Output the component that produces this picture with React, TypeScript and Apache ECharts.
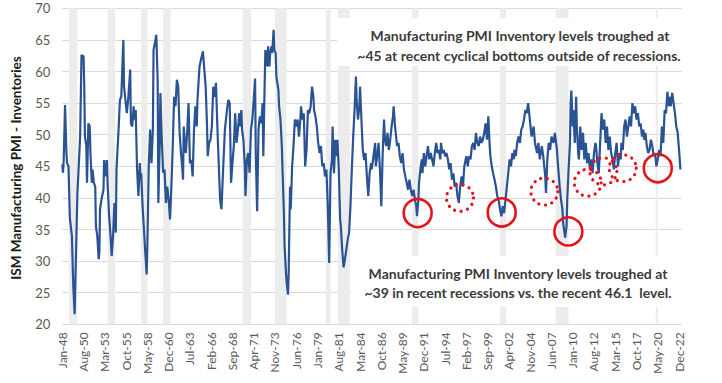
import React, { useEffect, useRef } from "react";
import * as echarts from "echarts";

const monthIdx: number[] = [
  0, 1, 2, 4, 6, 7, 9, 11, 14, 16, 18, 20, 22, 23, 26, 28, 31, 32, 33, 35, 36, 38, 40, 41, 43, 44, 46, 48, 49, 51, 53, 54, 55, 57, 60, 61, 63, 65, 66, 68, 70, 72, 74, 76, 78, 79, 82, 84, 86, 89, 90, 92, 94, 96, 97, 99, 100, 102, 104, 105, 107, 109, 111, 113, 114, 115, 117, 119, 121, 123, 124, 126, 128, 130, 132, 133, 135, 137, 139, 140, 142, 143, 145, 147, 149, 151, 153, 155, 157, 159, 161, 163, 165, 167, 169, 171, 173, 175, 176, 177, 179, 180, 182, 184, 186, 188, 190, 192, 194, 196, 197, 200, 202, 205, 207, 209, 211, 212, 214, 216, 218, 220, 222, 224, 226, 228, 230,
  232, 235, 237, 240, 242, 244, 246, 248, 250, 252, 254, 256, 258, 259, 261, 262, 264, 266, 267, 269, 271, 273, 275, 277, 279, 281, 282, 284, 286, 288, 290, 292, 293, 295, 296, 297, 299, 300, 302, 303, 305, 306, 308, 309, 311, 312, 315, 316, 318, 320, 321, 323, 324, 326, 327, 329, 330, 331, 332, 333, 335, 337, 339, 341, 343, 345, 347, 348, 350, 352, 354, 356, 358, 360, 362, 364, 366, 367, 369, 371, 373, 375, 377, 379, 381, 383, 385, 387, 389, 391, 393, 394, 396, 398, 400, 401, 403, 405, 406, 408, 410, 412, 414, 416, 418, 420, 422, 424, 426, 428, 429, 431, 433, 434, 436, 438, 440, 442, 444, 446, 448, 450,
  451, 453, 456, 457, 459, 461, 463, 465, 467, 469, 470, 472, 474, 476, 478, 480, 482, 483, 485, 486, 488, 490, 492, 494, 496, 498, 500, 502, 504, 506, 508, 510, 512, 514, 516, 517, 519, 520, 522, 524, 525, 527, 529, 531, 533, 535, 537, 539, 541, 543, 545, 547, 549, 551, 552, 554, 556, 558, 560, 562, 564, 566, 568, 570, 572, 574, 576, 578, 580, 582, 584, 586, 588, 589, 591, 593, 595, 597, 599, 601, 603, 605, 607, 609, 611, 613, 615, 617, 619, 621, 623, 624, 626, 628, 630, 632, 634, 636, 638, 640, 642, 644, 646, 648, 650, 652, 654, 656, 658, 659, 661, 663, 665, 667, 669, 671, 673, 675, 677, 679, 681,
  684, 687, 689, 692, 694, 696, 699, 701, 704, 705, 707, 709, 711, 713, 716, 718, 721, 723, 725, 727, 729, 730, 732, 733, 735, 736, 738, 740, 741, 742, 744, 745, 747, 749, 750, 752, 753, 755, 757, 759, 761, 763, 765, 767, 769, 771, 773, 775, 777, 778, 780, 782, 784, 786, 788, 790, 792, 794, 796, 798, 800, 802, 804, 806, 808, 810, 812, 814, 815, 817, 819, 821, 823, 825, 827, 829, 831, 833, 835, 837, 839, 841, 843, 845, 847, 848, 850, 852, 854, 856, 858, 860, 862, 864, 866, 868, 870, 872, 874, 876, 878, 880, 882, 884, 885, 887, 889, 891, 893, 895, 897, 899, 901,
];

// ISM Manufacturing PMI - Inventories index values at those months
const pmiInv: number[] = [
  45.3, 44, 45.8, 54.7, 47.1, 45.5, 45, 36.8, 34, 26, 21.6, 31.3, 40.8, 42.9, 49.7, 62.6, 62.4, 57.6, 49.7, 48.2, 42.4, 51.8, 51.3, 47.1, 42.4, 44.5, 42.4, 41.8, 35.5, 34, 30.3, 31.3, 38.2, 39.7, 41.3, 46, 43.4, 46, 42.4, 37.6, 34.5, 30.8, 34, 39.2, 34.5, 44.5, 50.8, 55.5, 56, 65, 57.6, 55.5, 53.4, 55.5, 57.1, 60.3, 51.8, 51.3, 54.5, 52.4, 53.9, 44.5, 40.3, 45.5, 42.9, 43.9, 38.7, 35, 31.3, 27.9, 32.4, 45, 50.8, 45.5, 50.8, 63.4, 64.5, 65.8, 58.7, 39.2, 48.7, 56.6, 49.2, 44, 44.5, 39.2, 41.8, 39.7, 36.6, 41.8, 48.2, 56, 54.5, 58.7, 57.6, 50.3, 47.1, 44.5, 42.9, 51.3, 48.2, 47.1, 50.3, 55, 45.5, 46, 43.4, 50.8, 54.5, 51.3, 55.5, 60.8, 61.8, 63.2, 60.3, 57.6, 51.3, 46.6, 48.7, 49.2, 51.3, 57.6, 56, 58.2, 51.3, 45.5, 39.7,
  38.2, 46, 50.8, 53.9, 55.5, 55, 42.4, 45.5, 48.2, 53.4, 48.7, 50.8, 53.4, 51.3, 53.9, 50.8, 49.2, 45, 40.3, 46, 47.1, 44, 50.8, 52.4, 55.5, 58.9, 47.1, 37.9, 50.8, 52.9, 51.8, 55, 46.6, 58.2, 63.4, 62.9, 60.8, 64, 60.8, 62.9, 64, 62.9, 66.6, 63.4, 62.9, 59.2, 57.1, 54.5, 52.4, 48.2, 44.5, 37.6, 32.4, 28.2, 26.6, 24.7, 28.2, 35.5, 41.8, 38.2, 45, 48.2, 52.4, 51.3, 52.4, 49.7, 52.4, 54.5, 52.4, 53.4, 45, 47.6, 53.9, 53.4, 54.5, 57.6, 56, 53.9, 52.9, 51.3, 48.7, 47.1, 48.2, 45, 45.5, 43.4, 44.5, 38.7, 29.7, 44, 46, 51.3, 43.9, 49.2, 46.6, 49.2, 44.5, 36.6, 35.5, 31.8, 29, 30.3, 31.8, 33.4, 34.5, 38.7, 44.5, 49.7, 53.9, 59.2, 55.5, 52.4, 54.5, 57.6, 52.4, 47.6, 46, 47.1, 43.4, 40.3, 44, 45.5,
  44.5, 46.1, 48.7, 45, 46.6, 48.7, 44.5, 38.7, 47.1, 52.4, 49.7, 48.2, 50.3, 47.6, 49.2, 51.3, 52.9, 54.5, 51.3, 50.3, 48.2, 48.7, 46.6, 45.5, 47.1, 44.5, 43.4, 42.4, 41.3, 42.9, 41.3, 40.3, 41.3, 39.7, 38.7, 37.1, 39.7, 42.4, 44.5, 46.1, 43.9, 47.1, 45, 46.6, 48.2, 46.1, 47.1, 46.1, 45, 47.1, 48.7, 47.1, 47.6, 46.1, 48.7, 47.1, 47.6, 46.6, 47.1, 46.1, 44.5, 45.5, 42.9, 43.9, 41.8, 42.4, 40.3, 39.2, 41.8, 43.4, 41.8, 45, 46.1, 46.6, 45, 46.6, 46.1, 48.2, 48.7, 47.6, 50.3, 48.7, 48.2, 49.7, 48.7, 49.2, 50.3, 51.8, 49.2, 52.9, 48.2, 46.6, 45, 43.9, 42.9, 41.8, 40.3, 39.7, 38.2, 37.1, 38.7, 37.6, 39.7, 41.8, 43.9, 46.1, 45, 47.1, 46.1, 47.6, 46.6, 48.7, 49.7, 48.7, 50.8, 51.3, 52.4, 53.9, 53.4, 55, 52.9,
  49.7, 51.3, 48.7, 47.1, 48.7, 46.1, 48.2, 46.6, 43.4, 40.8, 46.1, 48.7, 47.6, 49.7, 48.7, 50.3, 47.6, 44.5, 41.8, 39.7, 38.2, 36.1, 34.5, 33.7, 35.5, 39.7, 44.5, 48.7, 55, 57, 51.3, 53.9, 48.7, 56, 51.3, 47.1, 46.1, 51.3, 47.6, 50.3, 46.1, 48.7, 45.5, 47.1, 44.5, 46.1, 43.9, 47.1, 48.7, 48.2, 45.5, 43.9, 48.7, 53.4, 50.8, 52.4, 48.7, 51.3, 47.6, 49.7, 47.1, 46.1, 44.5, 47.1, 48.7, 45, 47.1, 46.1, 48.7, 47.6, 51.3, 52.4, 49.7, 51.3, 52.9, 51.3, 55, 53.4, 54.5, 52.4, 53.4, 51.3, 51.8, 49.7, 50.8, 49.2, 50.3, 48.2, 47.1, 47.6, 49.2, 48.2, 46.6, 47.1, 45, 46.1, 47.6, 46.6, 51.3, 48.7, 53.9, 53.4, 56.8, 54.5, 56, 54.5, 56.6, 55, 53.4, 51.3, 50.3, 47.6, 44.5,
];

const tickLabels: string[] = [
  "Jan-48", "Aug-50", "Mar-53", "Oct-55", "May-58", "Dec-60", "Jul-63", "Feb-66", "Sep-68", "Apr-71",
  "Nov-73", "Jun-76", "Jan-79", "Aug-81", "Mar-84", "Oct-86", "May-89", "Dec-91", "Jul-94", "Feb-97",
  "Sep-99", "Apr-02", "Nov-04", "Jun-07", "Jan-10", "Aug-12", "Mar-15", "Oct-17", "May-20", "Dec-22",
];

// NBER recessions, [first month, last month] as months since Jan-1948
const recessionStart: number[] = [10, 66, 115, 147, 263, 310, 384, 402, 510, 638, 719, 865];
const recessionEnd: number[] = [21, 76, 123, 157, 274, 326, 390, 418, 518, 646, 737, 867];

// Annotation circles, [month index, value]
const solidCircleAt: number[][] = [[518, 37.6], [640.5, 37.7], [737.6, 34.7], [868, 44.7]];
const dottedCircleAt: number[][] = [[579.7, 40], [702.6, 41], [765.9, 42.4], [788.6, 44.2], [816.9, 44.7]];

const noteTop: string[] = [
  "Manufacturing PMI Inventory levels troughed at",
  "~45 at recent cyclical bottoms outside of recessions.",
];
const noteBottom: string[] = [
  "Manufacturing PMI Inventory levels troughed at",
  "~39 in recent recessions vs. the recent 46.1  level.",
];
const yTitle = "ISM Manufacturing PMI - Inventories";

const FONT = "Lato, 'Open Sans', sans-serif";

export default function App() {
  const ref = useRef<HTMLDivElement>(null);
  useEffect(() => {
    if (!ref.current) return;
    const chart = echarts.init(ref.current, undefined, { renderer: "svg" });
    const option: any = {
      animation: false,
      backgroundColor: "#ffffff",
      grid: { left: 62.3, top: 8.3, width: 619.5, height: 316 },
      xAxis: {
        type: "value",
        min: 0,
        max: 903,
        interval: 31,
        axisLine: { show: true, lineStyle: { color: "#d9d9d9", width: 1 } },
        axisTick: { show: false },
        splitLine: { show: false },
        axisLabel: {
          rotate: 90,
          color: "#595959",
          fontSize: 12,
          fontFamily: FONT,
          margin: 8,
          showMaxLabel: false,
          formatter: (v: number) => (v % 31 === 0 && tickLabels[v / 31]) ? tickLabels[v / 31] : "",
        },
      },
      yAxis: {
        type: "value",
        min: 20,
        max: 70,
        interval: 5,
        axisLine: { show: false },
        axisTick: { show: false },
        splitLine: { show: true, lineStyle: { color: "#d9d9d9", width: 1 } },
        axisLabel: { color: "#595959", fontSize: 13, fontFamily: FONT, margin: 12 },
      },
      series: [
        {
          type: "line",
          data: monthIdx.map((m, i) => [m, pmiInv[i]]),
          showSymbol: false,
          symbol: "none",
          lineStyle: { color: "#2a5393", width: 2.2 },
          z: 3,
          markArea: {
            silent: true,
            itemStyle: { color: "#ececec" },
            data: recessionStart.map((s, i) => [{ xAxis: s }, { xAxis: recessionEnd[i] + 1 }]),
          },
        },
      ],
    };
    chart.setOption(option);

    const px = (p: number[]) => chart.convertToPixel({ gridIndex: 0 }, p) as number[];
    const graphics: any[] = [];
    graphics.push({ type: "rect", z: 2, shape: { x: 337, y: 18, width: 353, height: 48 }, style: { fill: "#ffffff" } });
    graphics.push({ type: "rect", z: 2, shape: { x: 351, y: 256, width: 339, height: 51 }, style: { fill: "#ffffff" } });
    const noteStyle = (text: string, x: number, y: number) => ({
      type: "text",
      z: 5,
      x,
      y,
      style: {
        text,
        fill: "#3b3b3b",
        font: `bold 14px ${FONT}`,
        textAlign: "center",
        textVerticalAlign: "middle",
      },
    });
    graphics.push(noteStyle(noteTop[0], 520, 35));
    graphics.push(noteStyle(noteTop[1], 519, 55));
    graphics.push(noteStyle(noteBottom[0], 518, 273));
    graphics.push(noteStyle(noteBottom[1], 518, 292));
    graphics.push({
      type: "text",
      z: 5,
      x: 16,
      y: 168,
      rotation: Math.PI / 2,
      style: {
        text: yTitle,
        fill: "#1a1a1a",
        font: `bold 13.5px ${FONT}`,
        textAlign: "center",
        textVerticalAlign: "middle",
      },
    });
    solidCircleAt.forEach((c) => {
      const [cx, cy] = px(c);
      graphics.push({
        type: "circle",
        z: 6,
        shape: { cx, cy, r: 14 },
        style: { fill: "none", stroke: "#e3141b", lineWidth: 2.6 },
      });
    });
    dottedCircleAt.forEach((c) => {
      const [cx, cy] = px(c);
      graphics.push({
        type: "circle",
        z: 6,
        shape: { cx, cy, r: 13.5 },
        style: { fill: "none", stroke: "#e3141b", lineWidth: 3.2, lineDash: [0.1, 6.5], lineCap: "round" },
      });
    });
    chart.setOption({ graphic: graphics });

    return () => chart.dispose();
  }, []);
  return (
    <div
      ref={ref}
      style={{ position: "fixed", left: 0, top: 0, width: 722, height: 383, background: "#fff" }}
    />
  );
}
